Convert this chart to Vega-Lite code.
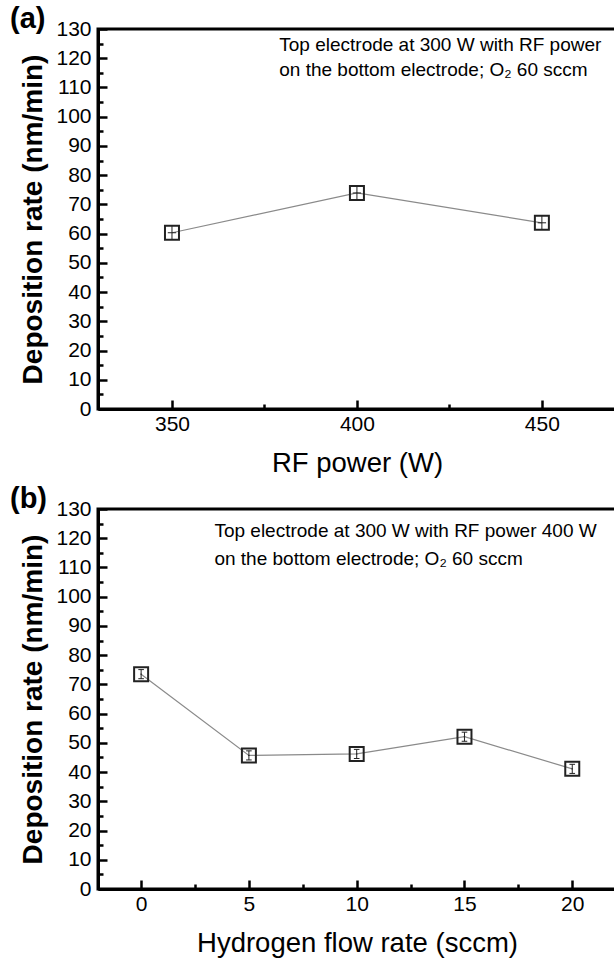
{
  "$schema": "https://vega.github.io/schema/vega-lite/v6.json",
  "background": "white",
  "padding": {"left": 8, "top": 3, "right": 0, "bottom": 0},
  "spacing": 5,
  "config": {
    "font": "Liberation Sans",
    "view": {"stroke": "black", "strokeWidth": 3},
    "axis": {
      "grid": false,
      "domainColor": "black",
      "domainWidth": 3,
      "tickColor": "black",
      "tickWidth": 2.5,
      "labelFont": "Liberation Sans",
      "labelFontSize": 21,
      "labelColor": "black",
      "titleColor": "black",
      "titleFont": "Liberation Sans"
    }
  },
  "vconcat": [
    {
      "width": 526,
      "height": 380,
      "title": {"text": "(a)", "anchor": "start", "frame": "group", "fontSize": 29, "fontWeight": "bold", "font": "Liberation Sans", "color": "black", "dx": -88, "dy": 16, "offset": 0},
      "data": {"values": [
        {"power": 350, "rate": 60.3},
        {"power": 400, "rate": 73.9},
        {"power": 450, "rate": 63.7}
      ]},
      "encoding": {
        "x": {"field": "power", "type": "quantitative",
          "scale": {"domain": [330, 472.2], "nice": false, "zero": false},
          "axis": {"title": "RF power (W)", "titleFontSize": 27.5, "titleFontWeight": "normal", "titlePadding": 15, "titleX": 259,
            "values": [350, 375, 400, 425, 450],
            "labelExpr": "datum.value % 50 === 0 ? datum.label : ''",
            "tickSize": {"condition": {"test": "datum.value % 50 === 0", "value": -9}, "value": -5},
            "labelPadding": 13}},
        "y": {"field": "rate", "type": "quantitative",
          "scale": {"domain": [0, 130], "nice": false},
          "axis": {"title": "Deposition rate (nm/min)", "titleFontSize": 28, "titleFontWeight": "bold", "titlePadding": 8,
            "values": [0,5,10,15,20,25,30,35,40,45,50,55,60,65,70,75,80,85,90,95,100,105,110,115,120,125,130],
            "labelExpr": "datum.value % 10 === 0 ? datum.label : ''",
            "tickSize": {"condition": {"test": "datum.value % 10 === 0", "value": -9}, "value": -5},
            "labelPadding": 16}}
      },
      "layer": [
        {"mark": {"type": "line", "color": "#8a8a8a", "strokeWidth": 1.2}},
        {"mark": {"type": "point", "shape": "square", "filled": false, "size": 196, "color": "#222", "strokeWidth": 2, "opacity": 1}},
        {"mark": {"type": "point", "shape": "M0,-1V1M-0.6,0H0.6", "filled": false, "size": 196, "color": "#222", "strokeWidth": 1, "opacity": 1}},
        {
          "data": {"values": [
            {"tx": 379, "ty": 124.5, "note": "Top electrode at 300 W with RF power"},
            {"tx": 379, "ty": 116, "note": "on the bottom electrode; O₂ 60 sccm"}
          ]},
          "mark": {"type": "text", "align": "left", "baseline": "middle", "fontSize": 19, "color": "black", "font": "Liberation Sans"},
          "encoding": {
            "x": {"field": "tx", "type": "quantitative"},
            "y": {"field": "ty", "type": "quantitative"},
            "text": {"field": "note"}
          }
        }
      ]
    },
    {
      "width": 526,
      "height": 380,
      "title": {"text": "(b)", "anchor": "start", "frame": "group", "fontSize": 29, "fontWeight": "bold", "font": "Liberation Sans", "color": "black", "dx": -88, "dy": 16, "offset": 0},
      "data": {"values": [
        {"flow": 0, "rate": 73.5},
        {"flow": 5, "rate": 45.7},
        {"flow": 10, "rate": 46.2},
        {"flow": 15, "rate": 52.1},
        {"flow": 20, "rate": 41.1}
      ]},
      "encoding": {
        "x": {"field": "flow", "type": "quantitative",
          "scale": {"domain": [-2, 22.4], "nice": false, "zero": false},
          "axis": {"title": "Hydrogen flow rate (sccm)", "titleFontSize": 27.5, "titleFontWeight": "normal", "titlePadding": 15, "titleX": 259,
            "values": [0, 2.5, 5, 7.5, 10, 12.5, 15, 17.5, 20],
            "labelExpr": "datum.value % 5 === 0 ? datum.label : ''",
            "tickSize": {"condition": {"test": "datum.value % 5 === 0", "value": -9}, "value": -5},
            "labelPadding": 13}},
        "y": {"field": "rate", "type": "quantitative",
          "scale": {"domain": [0, 130], "nice": false},
          "axis": {"title": "Deposition rate (nm/min)", "titleFontSize": 28, "titleFontWeight": "bold", "titlePadding": 8,
            "values": [0,5,10,15,20,25,30,35,40,45,50,55,60,65,70,75,80,85,90,95,100,105,110,115,120,125,130],
            "labelExpr": "datum.value % 10 === 0 ? datum.label : ''",
            "tickSize": {"condition": {"test": "datum.value % 10 === 0", "value": -9}, "value": -5},
            "labelPadding": 16}}
      },
      "layer": [
        {"mark": {"type": "line", "color": "#8a8a8a", "strokeWidth": 1.2}},
        {"mark": {"type": "point", "shape": "square", "filled": false, "size": 196, "color": "#222", "strokeWidth": 2, "opacity": 1}},
        {"mark": {"type": "point", "shape": "M0,-0.65V0.65M-0.4,-0.65H0.4M-0.4,0.65H0.4M-0.1,0H0.1", "filled": false, "size": 196, "color": "#222", "strokeWidth": 1, "opacity": 1}},
        {
          "data": {"values": [
            {"tx": 3.4, "ty": 122.5, "note": "Top electrode at 300 W with RF power 400 W"},
            {"tx": 3.4, "ty": 113, "note": "on the bottom electrode;  O₂ 60 sccm"}
          ]},
          "mark": {"type": "text", "align": "left", "baseline": "middle", "fontSize": 19, "color": "black", "font": "Liberation Sans"},
          "encoding": {
            "x": {"field": "tx", "type": "quantitative"},
            "y": {"field": "ty", "type": "quantitative"},
            "text": {"field": "note"}
          }
        }
      ]
    }
  ]
}
